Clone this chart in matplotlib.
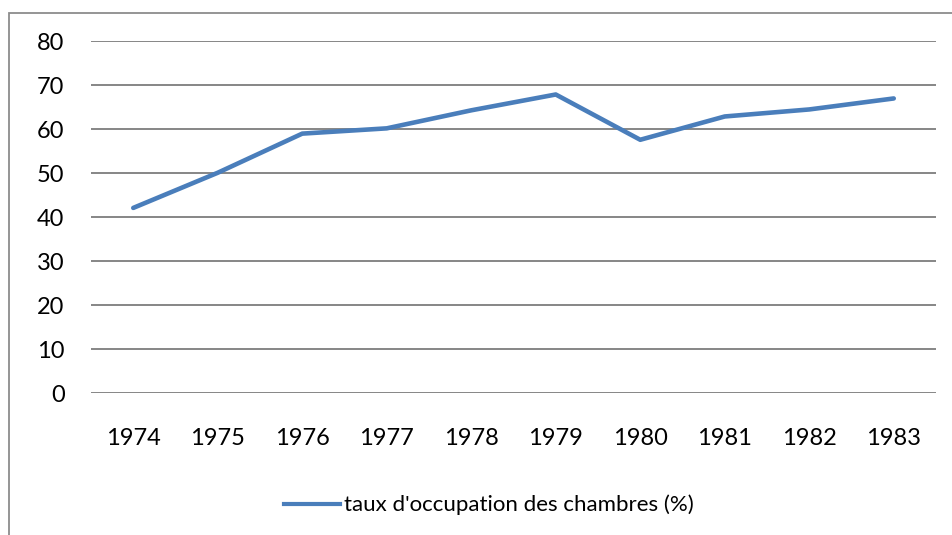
import matplotlib.pyplot as plt
from matplotlib.patches import Rectangle
from matplotlib.lines import Line2D

plt.rcParams['font.family'] = ['Lato', 'DejaVu Sans']

# Hotel room occupancy rate by year
years = ['1974', '1975', '1976', '1977', '1978', '1979', '1980', '1981', '1982', '1983']
occupancy = [42.1, 50.1, 59.0, 60.2, 64.3, 67.9, 57.6, 62.9, 64.5, 67.0]
yticks = [0, 10, 20, 30, 40, 50, 60, 70, 80]
series_label = "taux d'occupation des chambres (%)"

W, H = 952, 535
fig = plt.figure(figsize=(W / 100, H / 100), dpi=100)
ax = fig.add_axes([91 / W, 1 - 393 / H, (936 - 91) / W, (393 - 41.3) / H])

x = range(len(years))
ax.plot(x, occupancy, color='#4A7EBB', lw=3.3, solid_capstyle='round',
        solid_joinstyle='round', zorder=3)

ax.set_xlim(-0.5, len(years) - 0.5)
ax.set_ylim(0, 80)
ax.set_yticks(yticks)
ax.set_xticks(list(x))
ax.set_xticklabels(years)
ax.grid(axis='y', color='#868686', lw=1.4)
ax.set_axisbelow(True)
for s in ax.spines.values():
    s.set_visible(False)
ax.tick_params(length=0, labelsize=17, colors='black')
ax.tick_params(axis='y', pad=19)
ax.tick_params(axis='x', pad=25)

# outer chart frame (runs off the right and bottom)
fig.patches.append(Rectangle((8.5 / W, -0.1), 1.2, 1 - 12.5 / H + 0.1,
                             transform=fig.transFigure, fill=False,
                             edgecolor='#8C8C8C', lw=1.3))

handle = Line2D([], [], color='#4A7EBB', lw=3.0)
fig.legend([handle], [series_label], loc='center', bbox_to_anchor=(489 / W, 1 - 505 / H),
           frameon=False, fontsize=16, handlelength=2.5, handletextpad=0.2)

fig.savefig('out.png', dpi=100)
